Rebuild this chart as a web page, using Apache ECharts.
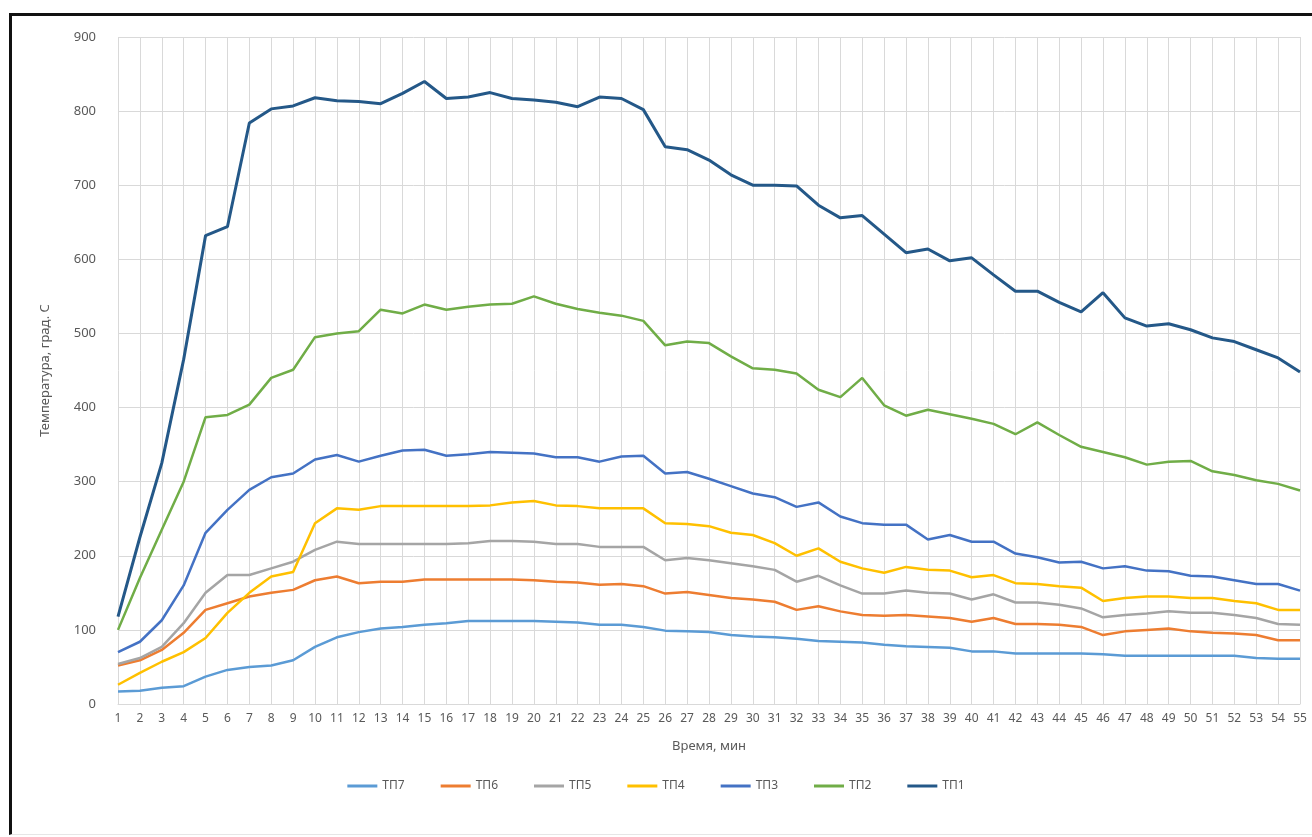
<!DOCTYPE html>
<html>
<head>
<meta charset="utf-8">
<script src="https://cdn.jsdelivr.net/npm/echarts@6/dist/echarts.min.js"></script>
<style>
  html, body { margin: 0; padding: 0; background: #fff; }
  #wrap { position: absolute; left: 0; top: 0; width: 1312px; height: 837px; }
  #frame { position: absolute; left: 9px; top: 13px; right: 0; bottom: 2px;
           border-left: 3px solid #111; border-top: 3px solid #111; border-bottom: 1px solid #e6e6e6; }
  #main { position: absolute; left: 0; top: 0; width: 1312px; height: 837px; }
</style>
</head>
<body>
<div id="wrap">
  <div id="frame"></div>
  <div id="main"></div>
</div>
<script>
// время, мин
var minutes = [];
for (var i = 1; i <= 55; i++) minutes.push(String(i));

var yTicks = [0, 100, 200, 300, 400, 500, 600, 700, 800, 900];

var tp1 = [118,225,325,465,632,644,784,803,807,818,814,813,810,824,840,817,819,825,817,815,812,806,819,817,802,752,748,734,714,700,700,699,673,656,659,634,609,614,598,602,579,557,557,542,529,555,521,510,513,505,494,489,478,467,448];
var tp2 = [100,170,235,300,387,390,404,440,451,495,500,503,532,527,539,532,536,539,540,550,540,533,528,524,517,484,489,487,469,453,451,446,424,414,440,403,389,397,391,385,378,364,380,363,347,340,333,323,327,328,314,309,302,297,288];
var tp3 = [70,84,113,160,231,262,289,306,311,330,336,327,335,342,343,335,337,340,339,338,333,333,327,334,335,311,313,304,294,284,279,266,272,253,244,242,242,222,228,219,219,203,198,191,192,183,186,180,179,173,172,167,162,162,153];
var tp4 = [26,42,57,70,89,123,150,172,178,244,264,262,267,267,267,267,267,268,272,274,268,267,264,264,264,244,243,240,231,228,217,200,210,192,183,177,185,181,180,171,174,163,162,159,157,139,143,145,145,143,143,139,136,127,127];
var tp5 = [54,62,77,109,150,174,174,183,192,208,219,216,216,216,216,216,217,220,220,219,216,216,212,212,212,194,197,194,190,186,181,165,173,160,149,149,153,150,149,141,148,137,137,134,129,117,120,122,125,123,123,120,116,108,107];
var tp6 = [52,59,73,96,127,136,145,150,154,167,172,163,165,165,168,168,168,168,168,167,165,164,161,162,159,149,151,147,143,141,138,127,132,125,120,119,120,118,116,111,116,108,108,107,104,93,98,100,102,98,96,95,93,86,86];
var tp7 = [17,18,22,24,37,46,50,52,59,77,90,97,102,104,107,109,112,112,112,112,111,110,107,107,104,99,98,97,93,91,90,88,85,84,83,80,78,77,76,71,71,68,68,68,68,67,65,65,65,65,65,65,62,61,61];

var names = ['ТП7', 'ТП6', 'ТП5', 'ТП4', 'ТП3', 'ТП2', 'ТП1'];
var values = [tp7, tp6, tp5, tp4, tp3, tp2, tp1];
var colors = ['#5B9BD5', '#ED7D31', '#A5A5A5', '#FFC000', '#4472C4', '#70AD47', '#245888'];

var chart = echarts.init(document.getElementById('main'), null, { renderer: 'canvas' });
var font = '"Noto Sans", "DejaVu Sans", sans-serif';

var option = {
  backgroundColor: 'transparent',
  color: colors,
  textStyle: { fontFamily: font },
  grid: { left: 118, right: 12, top: 37, bottom: 133, containLabel: false },
  legend: {
    data: names,
    bottom: 40,
    left: 'center',
    icon: 'rect',
    itemWidth: 30,
    itemHeight: 3,
    itemGap: 36,
    textStyle: { color: '#595959', fontSize: 12, fontFamily: font }
  },
  xAxis: {
    type: 'category',
    data: minutes,
    boundaryGap: false,
    name: 'Время, мин',
    nameLocation: 'middle',
    nameGap: 36,
    nameTextStyle: { color: '#595959', fontSize: 13, fontFamily: font },
    axisLine: { lineStyle: { color: '#D9D9D9' } },
    axisTick: { show: false },
    axisLabel: { interval: 0, color: '#595959', fontSize: 12, margin: 9, fontFamily: font },
    splitLine: { show: true, interval: 0, lineStyle: { color: '#D9D9D9', width: 1 } }
  },
  yAxis: {
    type: 'value',
    min: yTicks[0],
    max: yTicks[yTicks.length - 1],
    interval: 100,
    name: 'Температура, град. С',
    nameLocation: 'middle',
    nameGap: 66,
    nameRotate: 90,
    nameTextStyle: { color: '#595959', fontSize: 13, fontFamily: font },
    axisLine: { show: false },
    axisTick: { show: false },
    axisLabel: { color: '#595959', fontSize: 13, margin: 22, fontFamily: font },
    splitLine: { lineStyle: { color: '#D9D9D9', width: 1 } }
  },
  series: names.map(function (n, k) {
    return {
      name: n,
      type: 'line',
      data: values[k],
      showSymbol: false,
      symbol: 'none',
      smooth: false,
      lineStyle: { width: k === 6 ? 3 : 2.5, color: colors[k] },
      itemStyle: { color: colors[k] },
      animation: false
    };
  })
};

chart.setOption(option);
</script>
</body>
</html>
